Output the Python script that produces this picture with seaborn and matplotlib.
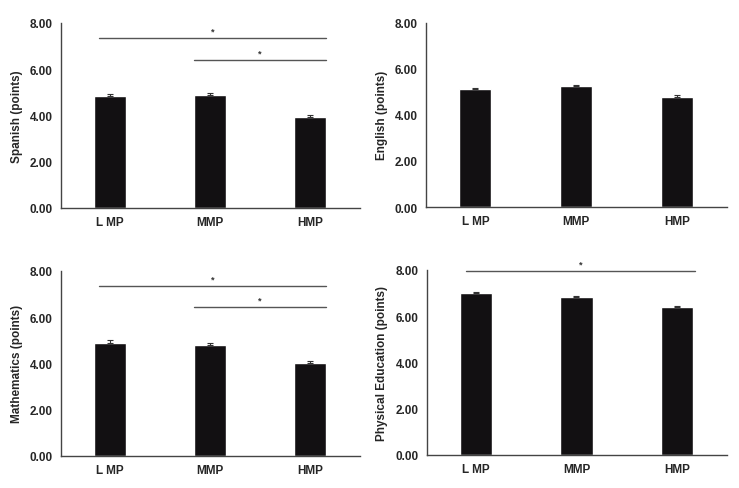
import matplotlib
matplotlib.use("Agg")
import matplotlib.pyplot as plt
import seaborn as sns
import pandas as pd

sns.set_style("white")
plt.rcParams['font.family'] = ['Liberation Sans', 'DejaVu Sans']
plt.rcParams['font.weight'] = 'bold'

groups = ["LMP", "MMP", "HMP"]
tick_labels = ["L MP", "MMP", "HMP"]
subjects = ["Spanish (points)", "English (points)", "Mathematics (points)", "Physical Education (points)"]
spanish = [4.82, 4.88, 3.93]
spanish_se = [0.08, 0.08, 0.09]
english = [5.12, 5.25, 4.78]
english_se = [0.06, 0.06, 0.06]
maths = [4.90, 4.79, 4.02]
maths_se = [0.09, 0.08, 0.08]
pe = [6.99, 6.84, 6.40]
pe_se = [0.06, 0.05, 0.05]
yticks = [0, 2, 4, 6, 8]

# significance brackets: (x_start, x_end, y)
sig_spanish = [(-0.11, 2.16, 7.33), (0.84, 2.16, 6.39)]
sig_english = []
sig_maths = [(-0.11, 2.16, 7.35), (0.84, 2.16, 6.42)]
sig_pe = [(-0.10, 2.18, 7.96)]

values = [spanish, english, maths, pe]
ses = [spanish_se, english_se, maths_se, pe_se]
sigs = [sig_spanish, sig_english, sig_maths, sig_pe]

fig = plt.figure(figsize=(7.39, 4.89), dpi=100)
positions = [
    [0.0825, 0.5726, 0.405, 0.379],
    [0.5765, 0.5746, 0.4075, 0.377],
    [0.0825, 0.066, 0.405, 0.378],
    [0.5775, 0.068, 0.4065, 0.378],
]

for pos, subj, vals, se, sg in zip(positions, subjects, values, ses, sigs):
    ax = fig.add_axes(pos)
    df = pd.DataFrame({"group": groups, "value": vals})
    sns.barplot(data=df, x="group", y="value", color="#121012", width=0.32,
                errorbar=None, ax=ax, saturation=1)
    ax.errorbar(range(len(groups)), vals, yerr=[[0]*3, se], fmt="none",
                ecolor="#333333", elinewidth=0.8, capsize=2.5, capthick=0.8)
    for x0, x1, y in sg:
        ax.plot([x0, x1], [y, y], color="#555555", lw=1.0)
        ax.text((x0 + x1) / 2, y + 0.12, "*", ha="center", va="bottom",
                fontsize=6.5, color="#333333")
    ax.set_ylim(0, 8)
    ax.set_xlim(-0.49, 2.5)
    ax.set_yticks(yticks)
    ax.set_yticklabels([f"{t:.2f}" for t in yticks], fontsize=8.5, fontweight="bold")
    ax.set_xticks(range(len(groups)))
    ax.set_xticklabels(tick_labels, fontsize=8.5, fontweight="bold")
    ax.tick_params(axis="both", length=0)
    ax.tick_params(axis="x", pad=6)
    ax.tick_params(axis="y", pad=6)
    ax.set_xlabel("")
    ax.set_ylabel(subj, fontsize=8.5, fontweight="bold", labelpad=5)
    for s in ["top", "right"]:
        ax.spines[s].set_visible(False)
    for s in ["left", "bottom"]:
        ax.spines[s].set_color("#444444")
        ax.spines[s].set_linewidth(1.0)

fig.savefig("out.png", dpi=100, facecolor="white")
